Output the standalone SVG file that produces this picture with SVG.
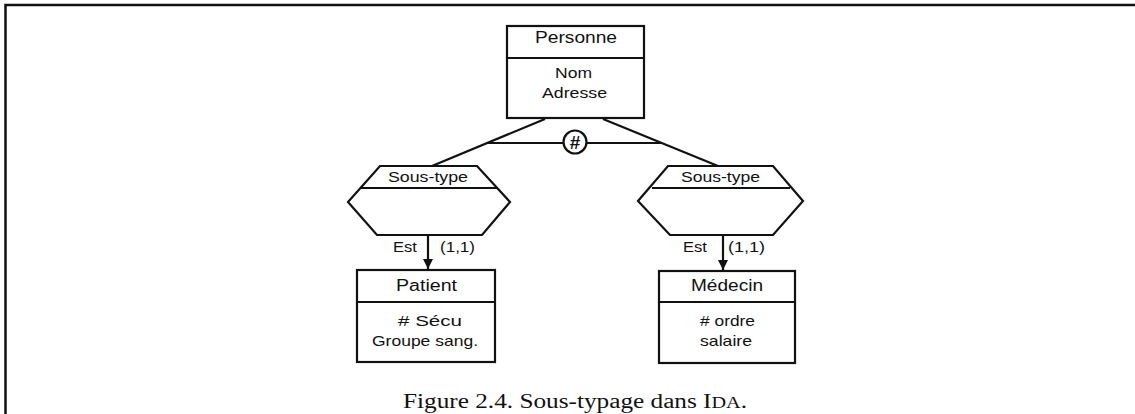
<svg xmlns="http://www.w3.org/2000/svg" width="1135" height="414" viewBox="0 0 1135 414">
  <style>
    .box { fill: #fff; stroke: #111; stroke-width: 2.2; }
    .ln { fill: none; stroke: #111; stroke-width: 2.2; }
    .lbl { font-family: "Liberation Sans", Arial, sans-serif; font-size: 15px; fill: #111; }
    .ttl { font-family: "Liberation Sans", Arial, sans-serif; font-size: 16px; fill: #111; }
    .cap { font-family: "Liberation Serif", "Times New Roman", serif; font-size: 20px; fill: #111; }
  </style>
  <defs>
    <marker id="arrow" viewBox="0 0 10 10" refX="10" refY="5" markerWidth="10" markerHeight="11" markerUnits="userSpaceOnUse" orient="auto">
      <path d="M0,0 L10,5 L0,10 Z" fill="#111"/>
    </marker>
  </defs>
  <rect width="1135" height="414" fill="#fff"/>

  <!-- figure frame: top and left rules -->
  <path d="M5.5,414 V5 H1135" fill="none" stroke="#111" stroke-width="2.5"/>

  <!-- connectors -->
  <g id="connectors">
    <line class="ln" x1="545" y1="119" x2="432" y2="166"/>
    <line class="ln" x1="603" y1="119" x2="718" y2="166"/>
    <line class="ln" x1="488" y1="143" x2="564" y2="143"/>
    <line class="ln" x1="586" y1="143" x2="661" y2="143"/>
    <line class="ln" x1="428" y1="235" x2="428" y2="269" marker-end="url(#arrow)"/>
    <line class="ln" x1="723" y1="235" x2="723" y2="270" marker-end="url(#arrow)"/>
    <text class="lbl" x="393" y="252" textLength="24" lengthAdjust="spacingAndGlyphs">Est</text>
    <text class="lbl" x="440" y="252" textLength="35" lengthAdjust="spacingAndGlyphs">(1,1)</text>
    <text class="lbl" x="683" y="252" textLength="24" lengthAdjust="spacingAndGlyphs">Est</text>
    <text class="lbl" x="728" y="252" textLength="37" lengthAdjust="spacingAndGlyphs">(1,1)</text>
  </g>

  <!-- exclusion marker -->
  <g id="exclusion">
    <circle cx="575" cy="142" r="11.5" fill="#fff" stroke="#111" stroke-width="2.2"/>
    <text x="575" y="149" text-anchor="middle" font-family="Liberation Sans, Arial, sans-serif" font-size="19" font-weight="bold" fill="#111">#</text>
  </g>

  <g id="personne">
    <rect class="box" x="507" y="26" width="137" height="92"/>
    <line class="ln" x1="507" y1="58" x2="644" y2="58"/>
    <text class="ttl" x="535" y="43" textLength="82" lengthAdjust="spacingAndGlyphs">Personne</text>
    <text class="lbl" x="555" y="78" textLength="37" lengthAdjust="spacingAndGlyphs">Nom</text>
    <text class="lbl" x="542" y="98" textLength="65" lengthAdjust="spacingAndGlyphs">Adresse</text>
  </g>

  <g id="soustype-patient">
    <polygon class="box" points="380,166 477,166 510,202 482,235 377,235 348,202"/>
    <line class="ln" x1="360" y1="188" x2="497" y2="188"/>
    <text class="lbl" x="388" y="182" textLength="80" lengthAdjust="spacingAndGlyphs">Sous-type</text>
  </g>

  <g id="soustype-medecin">
    <polygon class="box" points="668,166 773,166 803,201 773,235 670,235 638,201"/>
    <line class="ln" x1="652" y1="188" x2="790" y2="188"/>
    <text class="lbl" x="681" y="182" textLength="79" lengthAdjust="spacingAndGlyphs">Sous-type</text>
  </g>

  <g id="patient">
    <rect class="box" x="357" y="270" width="138" height="92"/>
    <line class="ln" x1="357" y1="302" x2="495" y2="302"/>
    <text class="ttl" x="396" y="291" textLength="61" lengthAdjust="spacingAndGlyphs">Patient</text>
    <text class="lbl" x="398" y="326" textLength="64" lengthAdjust="spacingAndGlyphs"># Sécu</text>
    <text class="lbl" x="372" y="346" textLength="106" lengthAdjust="spacingAndGlyphs">Groupe sang.</text>
  </g>

  <g id="medecin">
    <rect class="box" x="659" y="271" width="136" height="92"/>
    <line class="ln" x1="659" y1="302" x2="795" y2="302"/>
    <text class="ttl" x="691" y="291" textLength="72" lengthAdjust="spacingAndGlyphs">Médecin</text>
    <text class="lbl" x="700" y="326" textLength="55" lengthAdjust="spacingAndGlyphs"># ordre</text>
    <text class="lbl" x="700" y="346" textLength="52" lengthAdjust="spacingAndGlyphs">salaire</text>
  </g>

  <text class="cap" x="403" y="408" textLength="344" lengthAdjust="spacingAndGlyphs">Figure 2.4. Sous-typage dans I<tspan font-size="16">DA</tspan>.</text>
</svg>
